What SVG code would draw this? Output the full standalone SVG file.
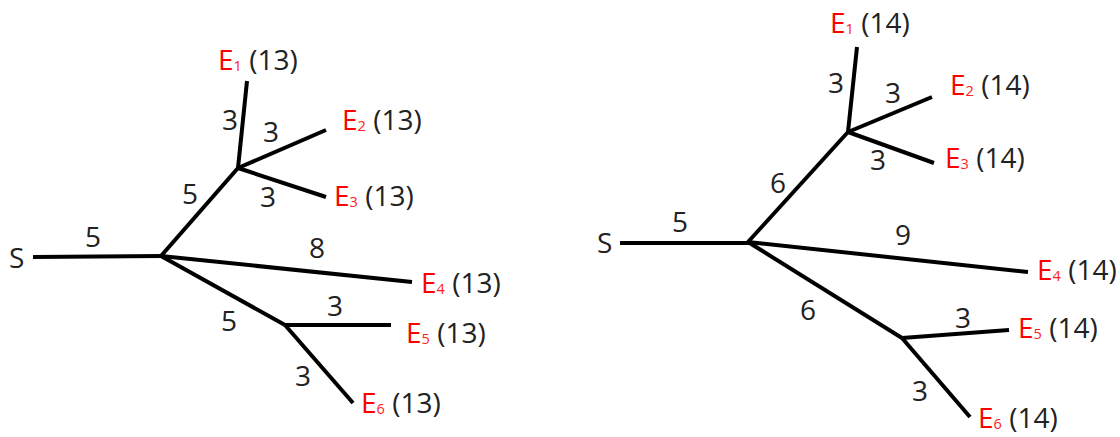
<svg xmlns="http://www.w3.org/2000/svg" width="1120" height="437" viewBox="0 0 1120 437">
<style>
text{font-family:"Open Sans","Noto Sans","Liberation Sans",sans-serif;font-size:28px;fill:#222}
.w{text-anchor:middle}
.r{fill:#ff0000}
.s{fill:#ff2020;font-size:14.5px}
.e line{stroke:#000;stroke-width:4;stroke-linecap:butt;fill:none}
</style>
<rect width="1120" height="437" fill="#fff"/>
<g id="connectors" class="e">
<line x1="33" y1="257" x2="162" y2="256"/>
<line x1="161" y1="256" x2="238" y2="168"/>
<line x1="238" y1="168" x2="247" y2="81"/>
<line x1="238" y1="168" x2="326" y2="130"/>
<line x1="238" y1="168" x2="326" y2="197"/>
<line x1="161" y1="256" x2="412" y2="282"/>
<line x1="161" y1="256" x2="285" y2="325"/>
<line x1="285" y1="325" x2="391" y2="325"/>
<line x1="285" y1="325" x2="353" y2="403"/>
<line x1="620" y1="243" x2="749" y2="243"/>
<line x1="748" y1="242" x2="848" y2="132"/>
<line x1="848" y1="132" x2="857" y2="47"/>
<line x1="848" y1="132" x2="932" y2="97"/>
<line x1="848" y1="132" x2="934" y2="163"/>
<line x1="748" y1="242" x2="1028" y2="272"/>
<line x1="748" y1="242" x2="902" y2="338"/>
<line x1="902" y1="338" x2="1009" y2="330"/>
<line x1="902" y1="338" x2="970" y2="417"/>
</g>
<g id="edge-labels">
<text class="w" x="93" y="247">5</text>
<text class="w" x="190" y="204">5</text>
<text class="w" x="230" y="130">3</text>
<text class="w" x="271" y="142">3</text>
<text class="w" x="268" y="207">3</text>
<text class="w" x="317" y="258">8</text>
<text class="w" x="229" y="331">5</text>
<text class="w" x="335" y="316">3</text>
<text class="w" x="303" y="386">3</text>
<text class="w" x="680" y="232">5</text>
<text class="w" x="778" y="193">6</text>
<text class="w" x="836" y="93">3</text>
<text class="w" x="893" y="103">3</text>
<text class="w" x="878" y="170">3</text>
<text class="w" x="903" y="245">9</text>
<text class="w" x="808" y="320">6</text>
<text class="w" x="963" y="328">3</text>
<text class="w" x="920" y="401">3</text>
</g>
<g id="S-left"><text x="9" y="268">S</text></g>
<g id="E1-left"><text x="218" y="70"><tspan class="r">E</tspan><tspan class="s" dy="1">1</tspan><tspan dy="-1"> (13)</tspan></text></g>
<g id="E2-left"><text x="342" y="130"><tspan class="r">E</tspan><tspan class="s" dy="1">2</tspan><tspan dy="-1"> (13)</tspan></text></g>
<g id="E3-left"><text x="334" y="206"><tspan class="r">E</tspan><tspan class="s" dy="1">3</tspan><tspan dy="-1"> (13)</tspan></text></g>
<g id="E4-left"><text x="421" y="293"><tspan class="r">E</tspan><tspan class="s" dy="1">4</tspan><tspan dy="-1"> (13)</tspan></text></g>
<g id="E5-left"><text x="406" y="343"><tspan class="r">E</tspan><tspan class="s" dy="1">5</tspan><tspan dy="-1"> (13)</tspan></text></g>
<g id="E6-left"><text x="361" y="413"><tspan class="r">E</tspan><tspan class="s" dy="1">6</tspan><tspan dy="-1"> (13)</tspan></text></g>
<g id="S-right"><text x="597" y="253">S</text></g>
<g id="E1-right"><text x="830" y="33"><tspan class="r">E</tspan><tspan class="s" dy="1">1</tspan><tspan dy="-1"> (14)</tspan></text></g>
<g id="E2-right"><text x="950" y="95"><tspan class="r">E</tspan><tspan class="s" dy="1">2</tspan><tspan dy="-1"> (14)</tspan></text></g>
<g id="E3-right"><text x="945" y="168"><tspan class="r">E</tspan><tspan class="s" dy="1">3</tspan><tspan dy="-1"> (14)</tspan></text></g>
<g id="E4-right"><text x="1037" y="280"><tspan class="r">E</tspan><tspan class="s" dy="1">4</tspan><tspan dy="-1"> (14)</tspan></text></g>
<g id="E5-right"><text x="1018" y="338"><tspan class="r">E</tspan><tspan class="s" dy="1">5</tspan><tspan dy="-1"> (14)</tspan></text></g>
<g id="E6-right"><text x="978" y="428"><tspan class="r">E</tspan><tspan class="s" dy="1">6</tspan><tspan dy="-1"> (14)</tspan></text></g>
</svg>
